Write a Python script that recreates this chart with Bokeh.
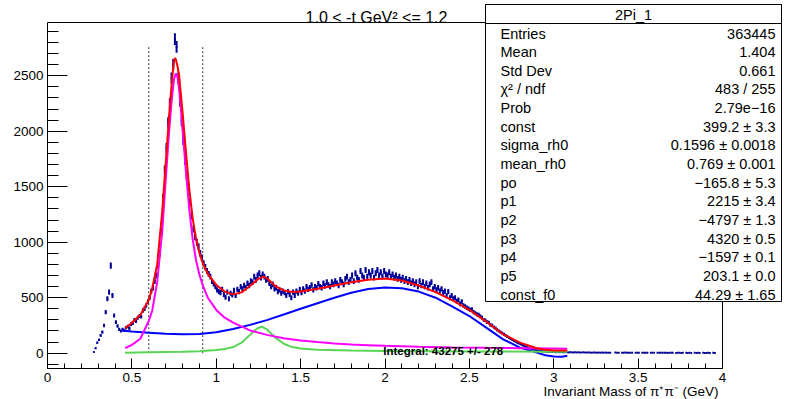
import numpy as np
from bokeh.plotting import figure
from bokeh.models import (Range1d, Label, BoxAnnotation, SingleIntervalTicker,
                          LinearAxis, CustomJSTickFormatter, Title)
from bokeh.embed import file_html
from bokeh.resources import INLINE

# ---------------- data ----------------
bin_start = 0.27
bin_width = 0.01
counts = [
    10, 45, 95, 120, 160, 190, 250, 370, 490, 550,           # 0.27
    790, 520, 340, 280, 245, 215, 200, 215, 205, 230,        # 0.37
    240, 225, 260, 270, 300, 290, 320, 335, 330, 385,        # 0.47
    400, 430, 465, 500, 560, 590, 650, 700, 790, 900,        # 0.57
    1100, 1400, 1650, 1850, 2080, 2250, 2480, 2600, 2830, 2760,  # 0.67
    2480, 2270, 2090, 1920, 1740, 1600, 1500, 1360, 1240, 1120,  # 0.77
    1050, 1000, 960, 900, 860, 810, 775, 740, 715, 690,      # 0.87
    650, 625, 600, 570, 555, 545, 575, 530, 505, 550,        # 0.97
    490, 540, 525, 565, 520, 575, 555, 600, 580, 610,        # 1.07
    590, 630, 610, 650, 640, 690, 660, 700, 720, 680,        # 1.17
    710, 690, 660, 670, 630, 600, 620, 580, 590, 555,        # 1.27
    570, 540, 560, 545, 520, 555, 530, 500, 550, 520,        # 1.37
    560, 540, 575, 545, 580, 560, 600, 575, 590, 615,        # 1.47
    570, 600, 590, 625, 600, 590, 630, 605, 640, 615,        # 1.57
    600, 640, 620, 650, 630, 610, 660, 640, 620, 670,        # 1.67
    690, 640, 660, 700, 650, 720, 680, 660, 740, 700,        # 1.77
    680, 750, 690, 730, 700, 740, 680, 720, 750, 700,        # 1.87
    730, 690, 740, 710, 700, 730, 690, 710, 680, 700,        # 1.97
    670, 690, 660, 680, 650, 670, 640, 660, 630, 650,        # 2.07
    620, 640, 600, 650, 610, 640, 600, 630, 590, 620,        # 2.17
    640, 580, 600, 570, 590, 560, 580, 545, 560, 520,        # 2.27
    555, 500, 520, 490, 500, 470, 480, 445, 465, 430,        # 2.37
    420, 410, 400, 390, 395, 370, 360, 350, 345, 330,        # 2.47
    320, 300, 295, 280, 275, 255, 250, 235, 225, 210,        # 2.57
    200, 190, 180, 170, 160, 150, 140, 130, 120, 112,        # 2.67
    105, 95, 88, 80, 72, 66, 58, 52, 45, 40,                 # 2.77
    36, 32, 28, 25, 22, 20, 18, 16, 14, 13,                  # 2.87
    12, 11, 10, 10, 9, 11, 8, 10, 9, 8,                      # 2.97
    10, 7, 9, 8, 7, 9, 6, 8, 7, 6,                           # 3.07
    8, 7, 6, 7, 6, 5, 7, 6, 5, 6,                            # 3.17
    5, 7, 5, 6, 5, 4, 5, 0, 0, 6,                            # 3.27
    4, 5, 0, 5, 4, 6, 4, 5, 3, 4,                            # 3.37
    0, 5, 4, 3, 0, 4, 5, 3, 4, 0,                            # 3.47
    3, 4, 3, 0, 4, 3, 5, 3, 4, 3,                            # 3.57
    2, 4, 3, 3, 0, 2, 3, 4, 2, 3,                            # 3.67
    0, 3, 2, 3, 2, 0, 3, 2, 4, 2,                            # 3.77
    0, 3, 2, 2, 3, 2, 0, 3, 2,                               # 3.87
]

total_x = [0.46, 0.50, 0.55, 0.60, 0.62, 0.65, 0.68, 0.70, 0.72, 0.73,
           0.74, 0.75, 0.755, 0.76, 0.77, 0.78, 0.79, 0.80, 0.82, 0.84,
           0.86, 0.88, 0.90, 0.92, 0.95, 1.00, 1.05, 1.10, 1.15, 1.20,
           1.25, 1.28, 1.30, 1.35, 1.40, 1.45, 1.50, 1.60, 1.70, 1.80,
           1.90, 2.00, 2.10, 2.20, 2.30, 2.40, 2.50, 2.60, 2.70, 2.80,
           2.90, 2.95, 3.00, 3.08]
total_y = [225, 275, 345, 480, 580, 800, 1280, 1700, 2130, 2320,
           2500, 2630, 2660, 2650, 2590, 2500, 2340, 2180, 1820, 1480,
           1220, 1030, 905, 810, 715, 615, 555, 530, 548, 605,
           670, 690, 675, 605, 565, 552, 555, 580, 610, 640,
           662, 672, 655, 610, 550, 475, 390, 285, 170, 95,
           45, 30, 24, 24]

rho_x = [0.46, 0.50, 0.55, 0.60, 0.62, 0.65, 0.68, 0.70, 0.72, 0.73,
         0.74, 0.75, 0.76, 0.77, 0.78, 0.79, 0.80, 0.82,
         0.84, 0.86, 0.88, 0.90, 0.92, 0.95, 1.00, 1.05, 1.10, 1.20,
         1.30, 1.40, 1.50, 1.60, 1.70, 1.80, 1.90, 2.00,
         2.20, 2.40, 2.60, 2.80, 3.00, 3.08]
rho_y = [45, 75, 130, 290, 380, 640, 1100, 1550, 1980, 2170,
         2340, 2470, 2520, 2490, 2380, 2200, 2020, 1640,
         1300, 1030, 840, 710, 610, 500, 390, 320, 275, 205,
         165, 135, 115, 100, 88, 78, 72, 66,
         58, 52, 48, 45, 42, 41]

bkg_x = [0.44, 0.50, 0.60, 0.70, 0.80, 0.90, 1.00, 1.10, 1.20, 1.30,
         1.40, 1.50, 1.60, 1.70, 1.80, 1.90, 2.00, 2.10, 2.20, 2.30,
         2.40, 2.50, 2.60, 2.70, 2.80, 2.90, 2.95, 3.00, 3.05, 3.08]
bkg_y = [205, 195, 185, 175, 170, 172, 188, 218, 255, 298,
         348, 400, 450, 500, 545, 578, 592, 585, 555, 500,
         420, 335, 230, 125, 50, 5, -18, -30, -32, -24]

f0_x = [0.46, 0.60, 0.80, 0.90, 1.00, 1.05, 1.10, 1.15, 1.20, 1.24,
        1.27, 1.30, 1.35, 1.40, 1.45, 1.50, 1.60, 1.80, 2.00, 2.50,
        3.00, 3.08]
f0_y = [5, 8, 12, 18, 28, 38, 55, 95, 165, 220,
        240, 215, 140, 85, 55, 42, 30, 24, 20, 16,
        14, 14]

window_x = [0.60, 0.92]
window_top = 2760

x_min, x_max = 0.0, 4.0
y_min, y_max = -138.0, 2980.0
x_tick_step = 0.5
y_tick_step = 500

title_text = "1.0 < -t GeV\u00b2 <= 1.2"
x_title = "Invariant Mass of \u03c0\u207a\u03c0\u207b (GeV)"
integral_text = "Integral: 43275 +/- 278"
stats_name = "2Pi_1"
stats_keys = ["Entries", "Mean", "Std Dev", "\u03c7\u00b2 / ndf", "Prob", "const",
              "sigma_rh0", "mean_rh0", "po", "p1", "p2", "p3", "p4", "p5", "const_f0"]
stats_vals = ["363445", "1.404", "0.661", "483 / 255", "2.79e\u221216",
              "399.2 \u00b1 3.3", "0.1596 \u00b1 0.0018", "0.769 \u00b1 0.001",
              "\u2212165.8 \u00b1 5.3", "2215 \u00b1 3.4", "\u22124797 \u00b1 1.3",
              "4320 \u00b1 0.5", "\u22121597 \u00b1 0.1", "203.1 \u00b1 0.0",
              "44.29 \u00b1 1.65"]

# ---------------- layout ----------------
W, H = 785, 399
# pixel box of the histogram axes (left, right, top, bottom)
AL, AR, AT, AB = 47, 722, 22, 368
# the drawing frame reaches the top and right canvas edges so the
# stats box and the title can sit there
FL, FR, FT, FB = AL, W, 0, AB
FONT = "Liberation Sans"
NAVY = "#000099"

xs = (AR - AL) / (x_max - x_min)
ys = (AB - AT) / (y_max - y_min)
x_hi = x_max + (FR - AR) / xs
y_hi = y_max + (AT - FT) / ys


def sx(px):
    return px - FL


def sy(py):
    return FB - py


p = figure(width=W, height=H, output_backend="svg", toolbar_location=None,
           x_range=Range1d(x_min, x_hi), y_range=Range1d(y_min, y_hi),
           x_axis_type=None, y_axis_type=None,
           min_border_left=FL, min_border_right=W - FR,
           min_border_top=FT, min_border_bottom=H - FB)
p.outline_line_color = None
p.background_fill_color = "white"
p.border_fill_color = "white"

xaxis = LinearAxis(ticker=SingleIntervalTicker(interval=x_tick_step, num_minor_ticks=5),
                   formatter=CustomJSTickFormatter(code="return String(Math.round(tick*10)/10);"),
                   bounds=(x_min, x_max))
yaxis = LinearAxis(ticker=SingleIntervalTicker(interval=y_tick_step, num_minor_ticks=5),
                   bounds=(y_min, y_max))
p.add_layout(xaxis, "below")
p.add_layout(yaxis, "left")
for ax in (xaxis, yaxis):
    ax.axis_line_color = "black"
    ax.major_tick_line_color = "black"
    ax.minor_tick_line_color = "black"
    ax.major_tick_out = 0
    ax.minor_tick_out = 0
    ax.major_label_text_font = FONT
    ax.major_label_text_font_size = "13.5px"
    ax.major_label_text_color = "black"
    ax.major_label_standoff = 4
xaxis.major_tick_in = 10
xaxis.minor_tick_in = 5
yaxis.major_tick_in = 20
yaxis.minor_tick_in = 11

# x axis title: a title block under the axis, right aligned at the end
# of the histogram axis (x = 4); for right alignment the offset moves it left
x_title_block = Title(text=x_title, align="right", offset=(FR - 718),
                      standoff=-6, vertical_align="bottom",
                      text_font=FONT, text_font_size="13.5px",
                      text_font_style="normal", text_color="black")
p.add_layout(x_title_block, "below")

# axes frame box
p.add_layout(BoxAnnotation(left=x_min, right=x_max, bottom=y_min, top=y_max,
                           fill_alpha=0.0, line_color="black", line_width=1,
                           line_alpha=1.0, level="underlay"))

# ---------------- histogram with error bars ----------------
cnt = np.array(counts, dtype=float)
centers = bin_start + bin_width * (np.arange(len(cnt)) + 0.5)
mask = cnt > 0
err = np.sqrt(cnt)
p.segment(x0=centers[mask], y0=(cnt - err)[mask], x1=centers[mask], y1=(cnt + err)[mask],
          line_color=NAVY, line_width=2)
p.segment(x0=(centers - bin_width / 2)[mask], y0=cnt[mask],
          x1=(centers + bin_width / 2)[mask], y1=cnt[mask],
          line_color=NAVY, line_width=2)

# window lines
p.segment(x0=window_x, y0=[0, 0], x1=window_x, y1=[window_top, window_top],
          line_color="#333333", line_width=1, line_dash="2 2")

# fit components
p.line(bkg_x, bkg_y, line_color="#0000ff", line_width=2)
p.line(f0_x, f0_y, line_color="#59d454", line_width=2)
p.line(rho_x, rho_y, line_color="#ff00ff", line_width=2)
p.line(total_x, total_y, line_color="#ff0000", line_width=2)

p.add_layout(Label(x=1.99, y=24, text=integral_text, text_font=FONT,
                   text_font_size="11.5px", text_font_style="bold",
                   text_color="black", text_baseline="alphabetic"))

# title
p.add_layout(Label(x=sx(376), y=sy(17), x_units="screen", y_units="screen",
                   text=title_text, text_font=FONT, text_font_size="16px",
                   text_align="center", text_baseline="alphabetic", text_color="black"))

# stats box
BL, BR, BT, BB, BH = 485, 781, 4, 301, 23
p.add_layout(BoxAnnotation(left=sx(BL), right=sx(BR), top=sy(BT), bottom=sy(BB),
                           left_units="screen", right_units="screen",
                           top_units="screen", bottom_units="screen",
                           fill_color="white", fill_alpha=1.0,
                           line_color="black", line_width=1, line_alpha=1.0))
p.add_layout(BoxAnnotation(left=sx(BL), right=sx(BR), top=sy(BT), bottom=sy(BH),
                           left_units="screen", right_units="screen",
                           top_units="screen", bottom_units="screen",
                           fill_alpha=0.0,
                           line_color="black", line_width=1, line_alpha=1.0))
p.add_layout(Label(x=sx((BL + BR) / 2), y=sy(14), x_units="screen", y_units="screen",
                   text=stats_name, text_font=FONT, text_font_size="14.5px",
                   text_align="center", text_baseline="middle", text_color="black"))
for i, (k, v) in enumerate(zip(stats_keys, stats_vals)):
    yy = 33 + 18.65 * i
    p.add_layout(Label(x=sx(500), y=sy(yy), x_units="screen", y_units="screen",
                       text=k, text_font=FONT, text_font_size="14.5px",
                       text_align="left", text_baseline="middle", text_color="black"))
    p.add_layout(Label(x=sx(775), y=sy(yy), x_units="screen", y_units="screen",
                       text=v, text_font=FONT, text_font_size="14.5px",
                       text_align="right", text_baseline="middle", text_color="black"))

open("out.html", "w").write(file_html(p, INLINE))
